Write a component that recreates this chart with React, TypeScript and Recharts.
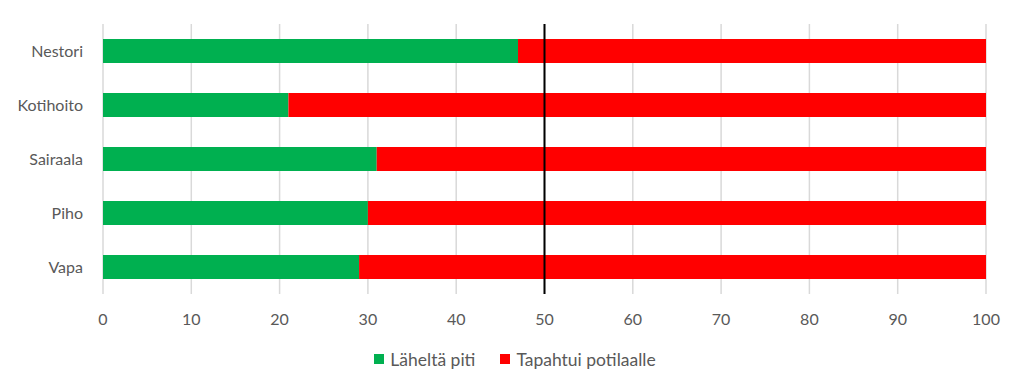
import React from 'react';
import { BarChart, Bar, XAxis, YAxis, CartesianGrid, Legend, ReferenceLine } from 'recharts';

const units = ['Nestori', 'Kotihoito', 'Sairaala', 'Piho', 'Vapa'];
const nearMiss = [47, 21, 31, 30, 29];
const toPatient = [53, 79, 69, 70, 71];
const xTicks = [0, 10, 20, 30, 40, 50, 60, 70, 80, 90, 100];

const seriesNames = ['Läheltä piti', 'Tapahtui potilaalle'];
const seriesColors = ['#00B050', '#FF0000'];

const data = units.map((u, i) => ({ name: u, a: nearMiss[i], b: toPatient[i] }));

const font = 'Lato, "Open Sans", sans-serif';

const LegendBox = () => (
  <div style={{ display: 'flex', justifyContent: 'center', alignItems: 'center', height: 20, paddingLeft: 44, fontFamily: font, fontSize: 17.5, color: '#595959' }}>
    {seriesNames.map((n, i) => (
      <div key={n} style={{ display: 'flex', alignItems: 'center', marginRight: i === 0 ? 25 : 0 }}>
        <span style={{ width: 10, height: 10, background: seriesColors[i], display: 'inline-block', marginRight: 6 }} />
        <span>{n}</span>
      </div>
    ))}
  </div>
);

export default function App() {
  return (
    <div style={{ position: 'absolute', left: 0, top: 0, width: 1024, height: 392, background: '#fff' }}>
      <BarChart
        width={1024}
        height={392}
        data={data}
        layout="vertical"
        margin={{ top: 24, right: 38, left: 0, bottom: 23 }}
        barSize={24}
      >
        <CartesianGrid horizontal={false} stroke="#d9d9d9" strokeWidth={1.5} />
        <XAxis
          type="number"
          domain={[0, 100]}
          ticks={xTicks}
          axisLine={false}
          tickLine={false}
          height={55}
          tick={{ fill: '#595959', fontSize: 16, fontFamily: font, dy: 12 }}
          interval={0}
        />
        <YAxis
          type="category"
          dataKey="name"
          width={103}
          axisLine={false}
          tickLine={false}
          tick={{ fill: '#595959', fontSize: 16, fontFamily: font, dx: -12 }}
        />
        <Legend verticalAlign="bottom" height={20} content={() => <LegendBox />} />
        <Bar dataKey="a" stackId="s" name={seriesNames[0]} fill={seriesColors[0]} isAnimationActive={false} />
        <Bar dataKey="b" stackId="s" name={seriesNames[1]} fill={seriesColors[1]} isAnimationActive={false} />
        <ReferenceLine x={50} stroke="#000" strokeWidth={2} />
      </BarChart>
    </div>
  );
}
